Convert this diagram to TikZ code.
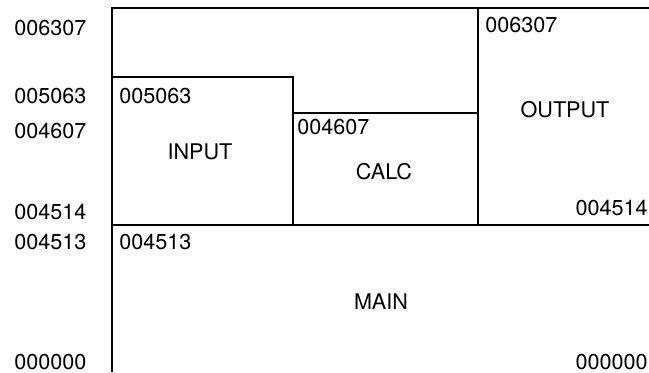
\documentclass[tikz,border=0pt]{standalone}
\usepackage{fontspec}
\setmainfont{TeX Gyre Heros}
\usetikzlibrary{positioning}

\begin{document}
\begin{tikzpicture}[x=0.5pt, y=-0.5pt, every node/.style={font=\fontsize{10.8}{13}\selectfont, inner sep=0pt}, wall/.style={line width=0.9pt}, addr/.style={anchor=west}, raddr/.style={anchor=east}]
	\useasboundingbox (0,0) rectangle (649,372);
	% frame and partitions
	\draw[wall] (112,372) -- (112,8) -- (649,8);
	\draw[wall] (112,77) -- (293,77) -- (293,225);
	\draw[wall] (293,113) -- (478,113);
	\draw[wall] (478,8) -- (478,225);
	\draw[wall] (112,225) -- (649,225);
	% addresses on the left
	\node[addr] (l6307) at (14,28) {006307};
	\node[addr] (l5063) at (14,96) {005063};
	\node[addr] (l4607) at (14,131) {004607};
	\node[addr] (l4514) at (14,212) {004514};
	\node[addr] (l4513) at (14,242) {004513};
	\node[addr] (l0000) at (14,362) {000000};
	% addresses inside the blocks
	\node[addr] (inbase) at (119,96) {005063};
	\node[addr] (calcbase) at (297,127) {004607};
	\node[addr] (outbase) at (485,25) {006307};
	\node[raddr] (outend) at (648,208) {004514};
	\node[addr] (mainbase) at (119,242) {004513};
	\node[raddr] (mainend) at (648,362) {000000};
	% block names
	\node (input) at (200,152) {INPUT};
	\node (calc) at (384,172) {CALC};
	\node (output) at (565,110) {OUTPUT};
	\node (main) at (381,302) {MAIN};
\end{tikzpicture}
\end{document}
